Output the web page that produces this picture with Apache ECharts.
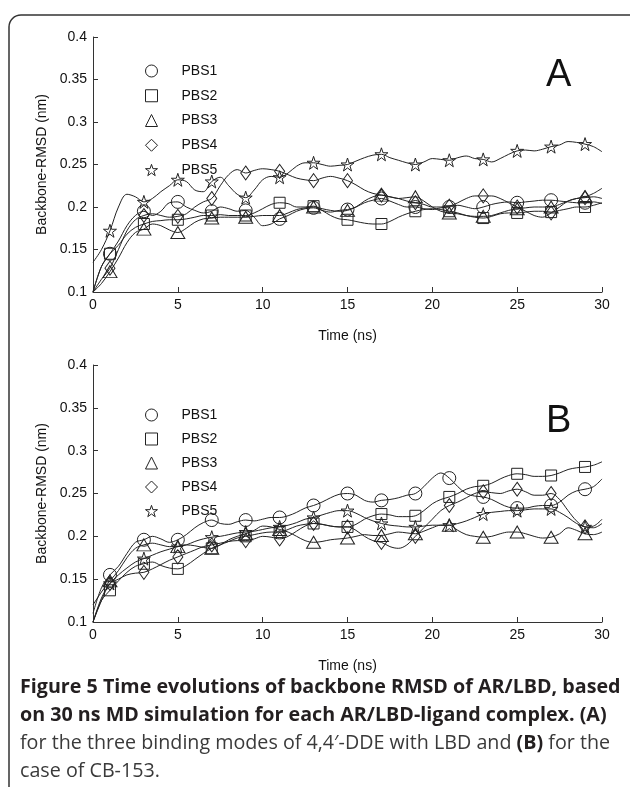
<!DOCTYPE html>
<html>
<head>
<meta charset="utf-8">
<script src="https://cdn.jsdelivr.net/npm/echarts@6/dist/echarts.min.js"></script>
<style>
html,body{margin:0;padding:0;background:#fff;}
#chart{width:630px;height:787px;}
</style>
</head>
<body>
<div id="chart"></div>
<script>
// Time axis (ns)
var times = [0,0.5,1,1.5,2,2.5,3,3.5,4,4.5,5,5.5,6,6.5,7,7.5,8,8.5,9,9.5,
  10,10.5,11,11.5,12,12.5,13,13.5,14,14.5,15,15.5,16,16.5,17,17.5,18,18.5,19,19.5,
  20,20.5,21,21.5,22,22.5,23,23.5,24,24.5,25,25.5,26,26.5,27,27.5,28,28.5,29,29.5,30];
var seriesNames = ['PBS1','PBS2','PBS3','PBS4','PBS5'];
var xTicks = [0,5,10,15,20,25,30];
var yTicks = [0.1,0.15,0.2,0.25,0.3,0.35,0.4];

// Panel A
var A_PBS1 = [0.100,0.130,0.145,0.160,0.178,0.190,0.195,0.190,0.195,0.205,
 0.206,0.200,0.196,0.193,0.195,0.200,0.198,0.195,0.196,0.188,
 0.178,0.180,0.186,0.190,0.195,0.198,0.199,0.196,0.194,0.196,
 0.197,0.200,0.205,0.208,0.210,0.207,0.203,0.200,0.200,0.198,
 0.197,0.199,0.200,0.202,0.200,0.198,0.200,0.203,0.205,0.206,
 0.205,0.206,0.207,0.208,0.208,0.207,0.206,0.205,0.205,0.206,
 0.204];
var A_PBS2 = [0.100,0.130,0.145,0.155,0.168,0.176,0.180,0.183,0.184,0.185,
 0.185,0.186,0.188,0.190,0.190,0.191,0.190,0.190,0.190,0.193,
 0.198,0.203,0.205,0.204,0.200,0.200,0.201,0.196,0.190,0.186,
 0.185,0.183,0.181,0.180,0.180,0.183,0.188,0.192,0.195,0.197,
 0.198,0.197,0.195,0.193,0.190,0.188,0.187,0.189,0.192,0.193,
 0.193,0.194,0.195,0.195,0.194,0.196,0.198,0.200,0.200,0.202,
 0.205];
var A_PBS3 = [0.100,0.110,0.124,0.140,0.158,0.170,0.174,0.180,0.178,0.173,
 0.170,0.175,0.182,0.186,0.187,0.188,0.188,0.188,0.188,0.189,
 0.190,0.190,0.190,0.193,0.197,0.199,0.200,0.198,0.196,0.195,
 0.196,0.200,0.207,0.212,0.214,0.212,0.210,0.211,0.212,0.207,
 0.200,0.195,0.193,0.192,0.190,0.189,0.189,0.190,0.193,0.196,
 0.198,0.199,0.200,0.200,0.200,0.203,0.207,0.210,0.212,0.216,
 0.222];
var A_PBS4 = [0.100,0.115,0.128,0.150,0.172,0.185,0.190,0.192,0.190,0.188,
 0.189,0.192,0.200,0.206,0.210,0.225,0.238,0.244,0.240,0.243,
 0.245,0.244,0.242,0.238,0.234,0.232,0.231,0.234,0.236,0.234,
 0.231,0.226,0.220,0.216,0.214,0.212,0.210,0.207,0.205,0.203,
 0.200,0.200,0.201,0.205,0.210,0.213,0.213,0.213,0.210,0.205,
 0.200,0.195,0.190,0.188,0.193,0.200,0.207,0.210,0.211,0.212,
 0.210];
var A_PBS5 = [0.135,0.150,0.172,0.200,0.215,0.212,0.206,0.210,0.218,0.225,
 0.232,0.230,0.220,0.218,0.230,0.235,0.225,0.215,0.211,0.220,
 0.232,0.236,0.235,0.240,0.248,0.252,0.252,0.250,0.248,0.249,
 0.250,0.254,0.258,0.261,0.262,0.258,0.255,0.252,0.250,0.253,
 0.257,0.256,0.255,0.258,0.260,0.257,0.256,0.253,0.257,0.262,
 0.266,0.267,0.266,0.268,0.271,0.273,0.277,0.276,0.274,0.271,
 0.265];

// Panel B
var B_PBS1 = [0.110,0.140,0.155,0.165,0.180,0.193,0.196,0.200,0.197,0.193,
 0.196,0.202,0.210,0.216,0.219,0.215,0.214,0.217,0.219,0.218,
 0.220,0.222,0.222,0.224,0.228,0.233,0.236,0.240,0.245,0.249,
 0.250,0.248,0.242,0.240,0.242,0.243,0.245,0.248,0.250,0.258,
 0.268,0.274,0.268,0.258,0.250,0.247,0.246,0.243,0.238,0.234,
 0.233,0.233,0.235,0.236,0.236,0.240,0.248,0.253,0.255,0.258,
 0.267];
var B_PBS2 = [0.100,0.125,0.137,0.148,0.158,0.165,0.168,0.170,0.166,0.163,
 0.162,0.166,0.173,0.180,0.186,0.190,0.194,0.198,0.200,0.202,
 0.204,0.205,0.205,0.208,0.212,0.214,0.215,0.214,0.212,0.211,
 0.211,0.214,0.220,0.224,0.226,0.225,0.223,0.223,0.224,0.230,
 0.238,0.243,0.246,0.250,0.255,0.258,0.259,0.262,0.267,0.271,
 0.273,0.272,0.270,0.270,0.271,0.274,0.278,0.280,0.281,0.283,
 0.287];
var B_PBS3 = [0.120,0.135,0.148,0.160,0.175,0.186,0.190,0.192,0.190,0.188,
 0.188,0.190,0.189,0.187,0.186,0.190,0.196,0.200,0.203,0.207,
 0.212,0.211,0.208,0.205,0.200,0.195,0.193,0.194,0.196,0.197,
 0.198,0.200,0.202,0.201,0.201,0.203,0.205,0.204,0.203,0.206,
 0.210,0.213,0.213,0.207,0.202,0.200,0.199,0.200,0.203,0.205,
 0.205,0.203,0.200,0.198,0.199,0.203,0.210,0.207,0.203,0.202,
 0.205];
var B_PBS4 = [0.100,0.125,0.145,0.150,0.155,0.157,0.158,0.162,0.167,0.172,
 0.176,0.180,0.184,0.188,0.190,0.192,0.194,0.195,0.195,0.197,
 0.200,0.199,0.197,0.200,0.206,0.212,0.215,0.214,0.212,0.211,
 0.211,0.207,0.200,0.195,0.193,0.188,0.186,0.190,0.200,0.210,
 0.220,0.230,0.236,0.240,0.245,0.250,0.252,0.251,0.250,0.253,
 0.255,0.252,0.248,0.248,0.250,0.243,0.230,0.218,0.211,0.212,
 0.220];
var B_PBS5 = [0.100,0.128,0.145,0.155,0.163,0.170,0.174,0.178,0.182,0.185,
 0.188,0.190,0.194,0.197,0.199,0.200,0.202,0.204,0.205,0.206,
 0.208,0.210,0.211,0.213,0.216,0.220,0.222,0.225,0.228,0.230,
 0.230,0.227,0.222,0.218,0.215,0.213,0.212,0.211,0.211,0.212,
 0.213,0.213,0.213,0.215,0.218,0.222,0.226,0.228,0.229,0.230,
 0.230,0.231,0.232,0.232,0.232,0.228,0.222,0.215,0.211,0.210,
 0.215];

var panelA = [A_PBS1, A_PBS2, A_PBS3, A_PBS4, A_PBS5];
var panelB = [B_PBS1, B_PBS2, B_PBS3, B_PBS4, B_PBS5];

var STAR = 'path://M50,0 L61.8,35.1 L98.9,35.1 L68.9,56.9 L80.3,92.1 L50,70.4 L19.7,92.1 L31.1,56.9 L1.1,35.1 L38.2,35.1 Z';
var symbols = ['circle','rect','triangle','diamond',STAR];
var sizes = [13, 11, [14,12], [10,14], 13];
var INK = '#222';
var AXF = 'Liberation Sans';

function isMarker(t){ return Math.abs(t - Math.round(t)) < 1e-9 && Math.round(t) % 2 === 1; }

function makeSeries(arrs, gi){
  return arrs.map(function(vals, k){
    return {
      type:'line', name: seriesNames[k], xAxisIndex: gi, yAxisIndex: gi,
      data: times.map(function(t,i){ return [t, vals[i]]; }),
      smooth: 0.35, symbol: symbols[k], showAllSymbol: true,
      symbolSize: function(v){ return isMarker(v[0]) ? sizes[k] : 0; },
      lineStyle: {color: INK, width: 1},
      itemStyle: {color: 'rgba(255,255,255,0)', borderColor: INK, borderWidth: 1},
      emphasis: {disabled: true}, animation: false, silent: true
    };
  });
}

function xAxis(gi){
  return {
    type:'value', gridIndex: gi, min: 0, max: 30, interval: 5,
    axisLine: {show: true, lineStyle: {color: '#333', width: 1}},
    axisTick: {show: true, inside: true, length: 5, lineStyle: {color: '#333'}},
    axisLabel: {color: '#111', fontSize: 14, fontFamily: AXF, margin: 6},
    splitLine: {show: false},
    name: 'Time (ns)', nameLocation: 'middle', nameGap: 37,
    nameTextStyle: {color: '#111', fontSize: 14, fontFamily: AXF}
  };
}
function yAxis(gi){
  return {
    type:'value', gridIndex: gi, min: 0.1, max: 0.4, interval: 0.05,
    axisLine: {show: true, lineStyle: {color: '#333', width: 1}},
    axisTick: {show: true, inside: true, length: 5, lineStyle: {color: '#333'}},
    axisLabel: {color: '#111', fontSize: 14, fontFamily: AXF, margin: 6,
      formatter: function(v){ return String(+v.toFixed(2)); }},
    splitLine: {show: false},
    name: 'Backbone-RMSD (nm)', nameLocation: 'middle', nameGap: 39, nameRotate: 90,
    nameTextStyle: {color: '#111', fontSize: 14, fontFamily: AXF}
  };
}
function legend(top, gap){
  return {
    orient: 'vertical', left: 140, top: top, itemWidth: 12, itemHeight: 12, itemGap: gap,
    selectedMode: false,
    data: seriesNames.map(function(n,k){ return {name: n, icon: symbols[k]}; }),
    itemStyle: {color: 'rgba(255,255,255,0)', borderColor: INK, borderWidth: 1},
    textStyle: {color: '#111', fontSize: 14, fontFamily: AXF, lineHeight: 12, padding: [0,0,0,19]}
  };
}

var CAP = 'Open Sans';
var chart = echarts.init(document.getElementById('chart'), null, {renderer: 'canvas'});
chart.setOption({
  backgroundColor: '#fff',
  animation: false,
  grid: [
    {left: 93, top: 37, width: 509, height: 255},
    {left: 93, top: 365, width: 509, height: 257}
  ],
  xAxis: [xAxis(0), xAxis(1)],
  yAxis: [yAxis(0), yAxis(1)],
  legend: [legend(59, 10.75), legend(403, 10)],
  series: makeSeries(panelA, 0).concat(makeSeries(panelB, 1)),
  graphic: [
    {type:'rect', shape:{x:9, y:15, width:640, height:800, r:12}, silent:true,
      style:{fill:'none', stroke:'#333', lineWidth:1.5}},
    {type:'text', left: 546, top: 57, silent:true,
      style:{text:'A', fontSize:38, fontFamily:AXF, fill:'#111'}},
    {type:'text', left: 546, top: 403, silent:true,
      style:{text:'B', fontSize:38, fontFamily:AXF, fill:'#111'}},
    {type:'text', left: 20, top: 677, silent:true,
      style:{text:'Figure 5 Time evolutions of backbone RMSD of AR/LBD, based', fontSize:19.7,
        fontWeight:'bold', fontFamily:CAP, fill:'#231f20'}},
    {type:'text', left: 20, top: 705, silent:true,
      style:{text:'on 30 ns MD simulation for each AR/LBD-ligand complex. (A)', fontSize:19.7,
        fontWeight:'bold', fontFamily:CAP, fill:'#231f20'}},
    {type:'text', left: 20, top: 733, silent:true,
      style:{text:'for the three binding modes of 4,4\u2032-DDE with LBD and {b|(B)} for the', fontSize:19.7,
        fontFamily:CAP, fill:'#3a3a3a',
        rich:{b:{fontWeight:'bold', fontSize:19.7, fontFamily:CAP, fill:'#231f20'}}}},
    {type:'text', left: 20, top: 761, silent:true,
      style:{text:'case of CB-153.', fontSize:19.7, fontFamily:CAP, fill:'#3a3a3a'}}
  ]
});
</script>
</body>
</html>
